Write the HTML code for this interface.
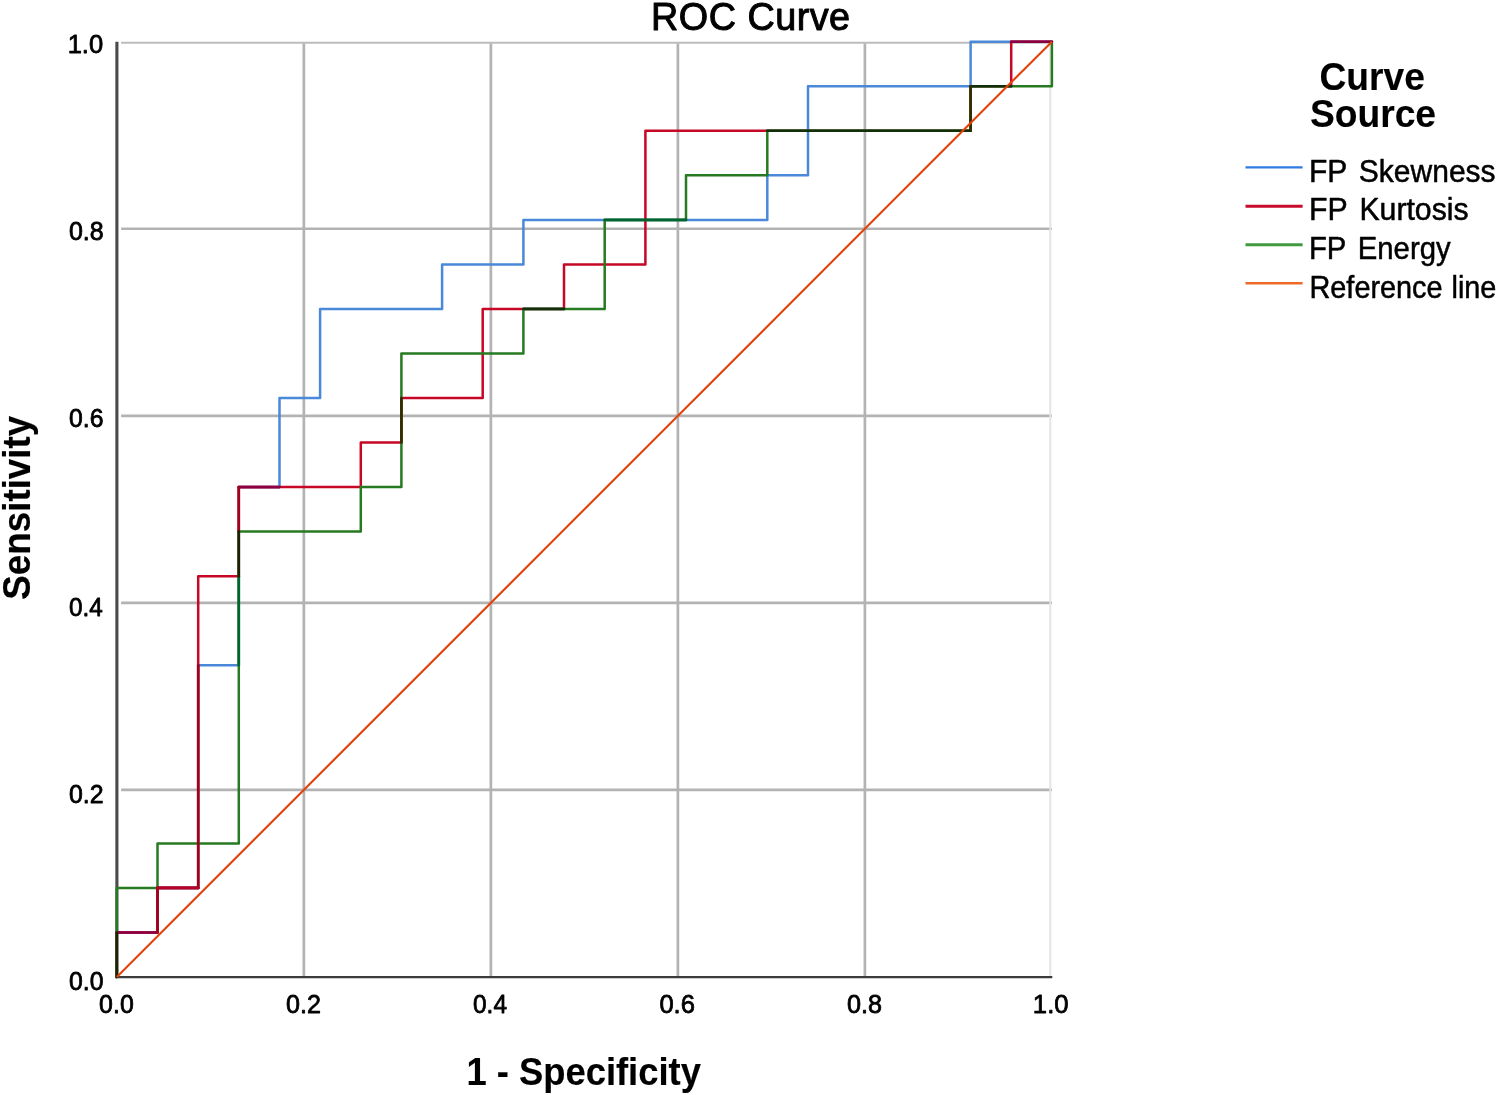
<!DOCTYPE html>
<html lang="en">
<head>
<meta charset="utf-8">
<title>ROC Curve</title>
<style>
html,body{margin:0;padding:0;background:#fff;}
body{width:1499px;height:1095px;overflow:hidden;font-family:"Liberation Sans",sans-serif;}
svg{display:block;position:absolute;left:0;top:0;filter:blur(0.55px);}
text{font-family:"Liberation Sans",sans-serif;fill:#000;stroke:#000;stroke-linejoin:round;}
.grid line{stroke:#b3b3b3;stroke-width:2.7;}
.curves polyline{fill:none;stroke-width:2.5;stroke-linejoin:round;stroke-linecap:round;}
.overlaps line{stroke-width:2.6;stroke-linecap:round;}
</style>
</head>
<body>
<svg width="1499" height="1095" viewBox="0 0 1499 1095">
<rect x="0" y="0" width="1499" height="1095" fill="#fff"/>
<g class="grid">
<line x1="303.86" y1="43.2" x2="303.86" y2="977.0"/>
<line x1="121.1" y1="789.94" x2="1051.9" y2="789.94"/>
<line x1="490.87" y1="43.2" x2="490.87" y2="977.0"/>
<line x1="121.1" y1="602.88" x2="1051.9" y2="602.88"/>
<line x1="677.88" y1="43.2" x2="677.88" y2="977.0"/>
<line x1="121.1" y1="415.82" x2="1051.9" y2="415.82"/>
<line x1="864.89" y1="43.2" x2="864.89" y2="977.0"/>
<line x1="121.1" y1="228.76" x2="1051.9" y2="228.76"/>
<line x1="121.1" y1="42.8" x2="1051.9" y2="42.8" style="stroke:#bcbcbc;stroke-width:2"/>
<line x1="1050.3" y1="42.7" x2="1050.3" y2="977.0" style="stroke:#e4e4e4;stroke-width:2"/>
</g>
<g class="axes">
<line x1="116.9" y1="41.7" x2="116.9" y2="978.1" stroke="#4b4b4b" stroke-width="3.1"/>
<line x1="115.4" y1="977.1" x2="1052.3" y2="977.1" stroke="#3c3c3c" stroke-width="2.3"/>
</g>
<g class="curves">
<polyline stroke="#4a88d9" points="116.8,977.0 116.8,932.5 157.5,932.5 157.5,887.9 198.2,887.9 198.2,665.2 238.8,665.2 238.8,487.1 279.5,487.1 279.5,398.0 320.1,398.0 320.1,308.9 442.1,308.9 442.1,264.4 523.4,264.4 523.4,219.9 767.3,219.9 767.3,175.3 808.0,175.3 808.0,86.2 970.6,86.2 970.6,41.7 1051.9,41.7"/>
<polyline stroke="#c60726" points="116.8,977.0 116.8,932.5 157.5,932.5 157.5,887.9 198.2,887.9 198.2,576.2 238.8,576.2 238.8,487.1 360.8,487.1 360.8,442.5 401.4,442.5 401.4,398.0 482.7,398.0 482.7,308.9 564.0,308.9 564.0,264.4 645.4,264.4 645.4,130.8 970.6,130.8 970.6,86.2 1011.2,86.2 1011.2,41.7 1051.9,41.7"/>
<polyline stroke="#267a20" points="116.8,977.0 116.8,887.9 157.5,887.9 157.5,843.4 238.8,843.4 238.8,531.6 360.8,531.6 360.8,487.1 401.4,487.1 401.4,353.5 523.4,353.5 523.4,308.9 604.7,308.9 604.7,219.9 686.0,219.9 686.0,175.3 767.3,175.3 767.3,130.8 970.6,130.8 970.6,86.2 1051.9,86.2 1051.9,41.7"/>
</g>
<g class="overlaps">
<line x1="116.8" y1="932.5" x2="157.5" y2="932.5" stroke="#8c0041"/>
<line x1="157.5" y1="887.9" x2="198.2" y2="887.9" stroke="#8c0041"/>
<line x1="238.8" y1="487.1" x2="279.5" y2="487.1" stroke="#8c0041"/>
<line x1="1011.2" y1="41.7" x2="1051.9" y2="41.7" stroke="#8c0041"/>
<line x1="157.5" y1="932.5" x2="157.5" y2="887.9" stroke="#a00019"/>
<line x1="198.2" y1="887.9" x2="198.2" y2="665.2" stroke="#a00019"/>
<line x1="238.8" y1="531.6" x2="238.8" y2="487.1" stroke="#a00019"/>
<line x1="604.7" y1="219.9" x2="686.0" y2="219.9" stroke="#00642d"/>
<line x1="238.8" y1="665.2" x2="238.8" y2="576.2" stroke="#00642d"/>
<line x1="523.4" y1="308.9" x2="564.0" y2="308.9" stroke="#0f300a"/>
<line x1="767.3" y1="130.8" x2="970.6" y2="130.8" stroke="#0f300a"/>
<line x1="970.6" y1="86.2" x2="1011.2" y2="86.2" stroke="#0f300a"/>
<line x1="401.4" y1="442.5" x2="401.4" y2="398.0" stroke="#332a00"/>
<line x1="970.6" y1="130.8" x2="970.6" y2="86.2" stroke="#332a00"/>
<line x1="116.8" y1="977.0" x2="116.8" y2="932.5" stroke="#1c2300"/>
<line x1="238.8" y1="576.2" x2="238.8" y2="531.6" stroke="#1c2300"/>
<line x1="157.5" y1="887.9" x2="198.2" y2="887.9" stroke="#b40024"/>
</g>
<line x1="116.8" y1="977.0" x2="1051.9" y2="41.7" stroke="#e2420a" stroke-width="2.1"/>
<g class="labels">
<text id="title" transform="translate(651.00,30.10) scale(0.9690,1)" style="font-size:39.00px;stroke-width:1.0px;letter-spacing:0.5px;">ROC Curve</text>
<text id="xtitle" transform="translate(466.40,1084.60) scale(0.9330,1)" style="font-size:39.00px;stroke-width:0.15px;font-weight:bold;">1 - Specificity</text>
<text id="ytitle" transform="translate(30.00,599.70) rotate(-90) scale(0.9430,1)" style="font-size:39.00px;stroke-width:0.15px;font-weight:bold;">Sensitivity</text>
<text id="curve" transform="translate(1319.50,90.00) scale(0.9530,1)" style="font-size:39.00px;stroke-width:0.15px;font-weight:bold;">Curve</text>
<text id="source" transform="translate(1309.90,126.60) scale(0.9540,1)" style="font-size:39.00px;stroke-width:0.15px;font-weight:bold;">Source</text>
<text id="fps" transform="translate(1308.90,182.40) scale(0.9560,1)" style="font-size:31.40px;stroke-width:0.5px;word-spacing:4px;">FP Skewness</text>
<text id="fpk" transform="translate(1309.00,219.50) scale(0.9640,1)" style="font-size:31.40px;stroke-width:0.5px;word-spacing:4px;">FP Kurtosis</text>
<text id="fpe" transform="translate(1308.90,258.80) scale(0.9340,1)" style="font-size:31.40px;stroke-width:0.5px;word-spacing:4px;">FP Energy</text>
<text id="ref" transform="translate(1309.50,297.50) scale(0.9190,1)" style="font-size:31.40px;stroke-width:0.5px;word-spacing:1px;">Reference line</text>
<text id="y10" transform="translate(67.65,53.30) scale(0.9600,1)" style="font-size:26.60px;stroke-width:0.8px;">1.0</text>
<text id="y08" transform="translate(68.95,240.00) scale(0.9400,1)" style="font-size:26.60px;stroke-width:0.8px;">0.8</text>
<text id="y06" transform="translate(69.10,426.90) scale(0.9300,1)" style="font-size:26.60px;stroke-width:0.8px;">0.6</text>
<text id="y04" transform="translate(69.00,616.30) scale(0.9150,1)" style="font-size:26.60px;stroke-width:0.8px;">0.4</text>
<text id="y02" transform="translate(68.95,803.20) scale(0.9370,1)" style="font-size:26.60px;stroke-width:0.8px;">0.2</text>
<text id="y00" transform="translate(69.05,990.30) scale(0.9320,1)" style="font-size:26.60px;stroke-width:0.8px;">0.0</text>
<text id="x00" transform="translate(99.10,1013.30) scale(0.9370,1)" style="font-size:26.60px;stroke-width:0.8px;">0.0</text>
<text id="x02" transform="translate(286.05,1013.30) scale(0.9450,1)" style="font-size:26.60px;stroke-width:0.8px;">0.2</text>
<text id="x04" transform="translate(473.05,1013.30) scale(0.9180,1)" style="font-size:26.60px;stroke-width:0.8px;">0.4</text>
<text id="x06" transform="translate(659.40,1013.30) scale(0.9620,1)" style="font-size:26.60px;stroke-width:0.8px;">0.6</text>
<text id="x08" transform="translate(846.95,1013.30) scale(0.9470,1)" style="font-size:26.60px;stroke-width:0.8px;">0.8</text>
<text id="x10" transform="translate(1032.85,1013.30) scale(0.9660,1)" style="font-size:26.60px;stroke-width:0.8px;">1.0</text>
</g>
<g class="legend-keys">
<line x1="1245.5" y1="167.4" x2="1302.6" y2="167.4" stroke="#2f7be0" stroke-width="2.4"/>
<line x1="1245.5" y1="206.3" x2="1302.6" y2="206.3" stroke="#c80a2d" stroke-width="3"/>
<line x1="1245.5" y1="244.7" x2="1302.6" y2="244.7" stroke="#3f9a3f" stroke-width="3"/>
<line x1="1245.5" y1="283.2" x2="1302.6" y2="283.2" stroke="#ee6a28" stroke-width="2.4"/>
</g>
</svg>
</body>
</html>
